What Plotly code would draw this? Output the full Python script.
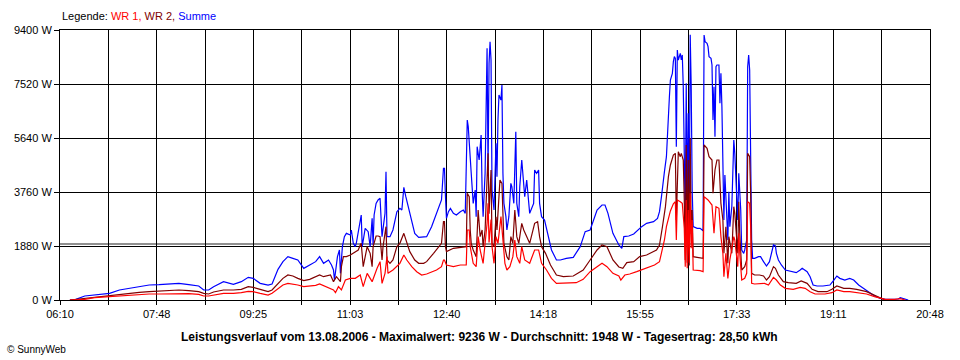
import plotly.graph_objects as go

# ---- data (time in minutes since midnight, power in W) ----
summe_min = [380, 386, 395, 405, 420, 430, 440, 450, 460, 470, 480, 490, 500, 510, 515, 520, 525, 535, 545, 553,
             560, 565, 572, 580, 584, 590, 595, 600, 605, 610, 616, 622, 628, 632, 636, 641, 644, 646, 647, 650,
             652, 653, 655, 657, 659, 663, 664, 666, 668, 669, 672, 674, 675, 678, 681, 683, 685, 686, 687, 689,
             691, 693, 695, 696, 698, 699, 700, 703, 706, 710, 713, 715, 717, 719, 722, 725, 728, 732, 737, 740,
             745, 750, 753, 755, 757, 758, 759, 760, 762, 764, 767, 770, 774, 777, 779, 781, 782, 784, 785, 787,
             789, 790, 791, 793, 795, 796, 797, 799, 800, 801, 802, 803, 804, 805, 806, 807, 808, 810, 811, 812,
             813, 815, 816, 817, 818, 820, 821, 823, 825, 826, 828, 830, 831, 833, 834, 836, 838, 839, 841, 843,
             844, 848, 849, 851, 853, 854, 856, 859, 863, 866, 871, 875, 881, 888, 895, 900, 905, 908, 912, 917,
             920, 923, 928, 934, 937, 939, 944, 949, 954, 957, 962, 969, 973, 975, 977, 979, 980, 982, 983, 985,
             986, 988, 989, 990, 991, 992, 993, 994, 996, 997, 998, 999, 1000, 1001, 1002, 1003, 1004, 1005, 1006, 1007,
             1008, 1009, 1013, 1016, 1019, 1020, 1021, 1023, 1024, 1025, 1027, 1028, 1029, 1030, 1031, 1032, 1033, 1035, 1036, 1037,
             1038, 1039, 1040, 1041, 1043, 1044, 1045, 1046, 1048, 1050, 1051, 1052, 1054, 1055, 1056, 1057, 1058, 1060, 1061, 1063,
             1064, 1065, 1066, 1067, 1068, 1069, 1071, 1075, 1077, 1080, 1083, 1086, 1088, 1090, 1092, 1093, 1095, 1098, 1102, 1105,
             1108, 1113, 1117, 1119, 1124, 1127, 1130, 1134, 1140, 1147, 1151, 1154, 1157, 1162, 1167, 1171, 1176, 1182, 1187, 1192,
             1198, 1203, 1209, 1216, 1218, 1221, 1224, 1226]
summe_w = [0, 23, 139, 174, 232, 348, 406, 464, 522, 534, 557, 580, 534, 487, 348, 348, 464, 638, 545, 638,
           789, 754, 580, 522, 557, 1068, 1335, 1509, 1451, 1393, 1102, 1218, 1335, 1509, 1277, 1393, 1219, 1044, 696, 1509,
           1741, 928, 1857, 2205, 2321, 2263, 2437, 1973, 1857, 1973, 2553, 2959, 1857, 2495, 2379, 1857, 2843, 1915, 2959, 3365,
           3482, 3540, 2205, 2553, 3017, 4468, 2205, 2205, 2437, 3075, 3191, 3133, 3922, 3598, 3133, 2669, 2321, 2182, 2182, 2205,
           2553, 3017, 3365, 3482, 4584, 4584, 3598, 2843, 3075, 3191, 3017, 2959, 3075, 3133, 3017, 6267, 6035, 4758, 4410, 3365,
           3830, 2901, 5338, 4874, 5744, 3830, 2901, 4410, 7775, 8762, 4500, 8240, 8994, 8356, 3830, 3365, 3133, 5454, 4294, 6267,
           7137, 6963, 7485, 4410, 3365, 2901, 2437, 2901, 4062, 3946, 3365, 5860, 3365, 2901, 3946, 4874, 3830, 3598, 4178, 3365,
           3017, 3365, 4526, 4410, 4526, 3365, 2901, 2785, 2205, 1741, 1393, 1393, 1451, 1485, 1857, 2379, 2437, 2727, 3133, 3307,
           3307, 3017, 2321, 1915, 1799, 2205, 2228, 2298, 2460, 2553, 2669, 2727, 2843, 3075, 3598, 4294, 4468, 4990, 5860, 7079,
           7659, 7891, 8297, 8472, 8414, 5338, 8704, 8356, 8588, 8356, 8530, 7427, 5106, 2785, 7543, 3000, 6499, 2800, 9236, 7427,
           3830, 2553, 2495, 2495, 2414, 9226, 8994, 8936, 8820, 8472, 8414, 8182, 6267, 7427, 5686, 8123, 8181, 8181, 6847, 7891,
           6731, 5106, 2785, 4352, 2785, 2089, 3772, 2553, 3249, 5570, 5106, 4294, 2785, 4410, 3714, 3133, 1741, 1625, 1741, 2089,
           8123, 8530, 8007, 4000, 2089, 1451, 1451, 1509, 1509, 1335, 1184, 1335, 1625, 1915, 1880, 1625, 1393, 1219, 1044, 1021,
           986, 951, 1044, 1102, 986, 812, 522, 487, 487, 522, 696, 836, 754, 696, 754, 696, 522, 371, 255, 139,
           58, 23, 23, 35, 81, 58, 23, 0]

wr2_min = [380, 386, 395, 405, 420, 430, 440, 450, 460, 470, 480, 490, 500, 510, 515, 520, 525, 535, 545, 553,
           560, 565, 572, 580, 584, 590, 595, 600, 605, 610, 616, 622, 628, 632, 636, 643, 646, 649, 653, 654,
           656, 659, 663, 666, 671, 673, 674, 676, 680, 683, 685, 686, 689, 691, 693, 695, 696, 699, 700, 703,
           706, 710, 713, 717, 720, 723, 728, 732, 737, 740, 747, 752, 755, 757, 758, 759, 760, 767, 774, 780,
           781, 783, 784, 785, 787, 790, 792, 794, 796, 797, 799, 801, 802, 803, 804, 805, 806, 808, 810, 811,
           813, 814, 816, 817, 818, 821, 823, 825, 827, 829, 831, 833, 836, 838, 841, 844, 849, 852, 854, 856,
           860, 865, 871, 878, 888, 898, 905, 912, 917, 922, 928, 934, 938, 942, 949, 955, 962, 965, 972, 975,
           976, 978, 981, 984, 986, 989, 991, 992, 994, 996, 997, 999, 1000, 1001, 1002, 1003, 1004, 1005, 1006, 1007,
           1008, 1009, 1013, 1019, 1020, 1023, 1025, 1028, 1029, 1031, 1033, 1035, 1037, 1039, 1040, 1042, 1044, 1045, 1048, 1050,
           1051, 1054, 1055, 1056, 1058, 1061, 1063, 1064, 1066, 1067, 1068, 1071, 1076, 1080, 1083, 1086, 1090, 1092, 1095, 1100,
           1105, 1113, 1118, 1124, 1129, 1135, 1144, 1149, 1154, 1161, 1167, 1174, 1184, 1191, 1196, 1201, 1206]
wr2_w = [0, 23, 58, 116, 162, 197, 232, 267, 290, 313, 325, 348, 325, 290, 232, 209, 278, 348, 348, 371,
         464, 441, 371, 290, 348, 580, 754, 870, 836, 754, 673, 720, 812, 870, 812, 870, 638, 812, 638, 1161,
         1509, 1509, 1567, 1625, 1741, 1915, 1973, 1161, 1857, 1625, 1161, 1857, 2228, 2228, 2205, 1393, 1857, 2553, 1393, 1277,
         1393, 1857, 1973, 2321, 1973, 1683, 1393, 1277, 1277, 1335, 1625, 1857, 1973, 2727, 2727, 1857, 1683, 1799, 1834, 1857,
         3714, 3598, 2437, 1973, 1741, 1509, 3133, 2205, 2437, 1857, 2437, 4526, 5106, 3000, 3830, 4526, 1973, 1857, 2901, 2437,
         3598, 4178, 4062, 2901, 1973, 1509, 1393, 2205, 1973, 3133, 2205, 1973, 2669, 2437, 2205, 1973, 2669, 2727, 2205, 1857,
         1625, 1219, 870, 812, 836, 1044, 1393, 1741, 1915, 1857, 1393, 1150, 1102, 1300, 1335, 1509, 1567, 1625, 1741, 1915,
         2089, 2553, 3249, 4294, 4700, 5048, 5106, 2785, 5164, 4990, 5106, 4874, 3500, 1393, 5396, 1300, 4874, 1200, 5628, 2300,
         3133, 1509, 1485, 1451, 5396, 5280, 4990, 4874, 3714, 4526, 4874, 4874, 3365, 2785, 1625, 2553, 1277, 2205, 1625, 3249,
         3017, 1625, 3423, 2321, 1044, 1160, 1393, 5106, 4990, 3714, 928, 870, 870, 836, 696, 812, 1161, 1102, 870, 638,
         603, 580, 661, 580, 371, 290, 290, 371, 487, 406, 406, 371, 290, 174, 81, 23, 0]

wr1_min = [380, 390, 395, 405, 420, 430, 440, 450, 460, 470, 480, 490, 500, 510, 515, 520, 525, 535, 545, 553,
           560, 565, 572, 580, 584, 590, 595, 600, 605, 610, 616, 622, 628, 632, 639, 646, 648, 651, 654, 658,
           663, 668, 673, 676, 680, 685, 690, 693, 695, 698, 700, 701, 706, 710, 713, 717, 720, 725, 730, 735,
           740, 750, 755, 757, 758, 760, 767, 774, 780, 781, 783, 784, 787, 790, 792, 794, 797, 801, 802, 803,
           804, 805, 806, 808, 810, 812, 815, 817, 819, 821, 824, 827, 829, 831, 834, 836, 839, 844, 849, 853,
           856, 861, 866, 871, 881, 891, 898, 905, 912, 917, 922, 928, 934, 936, 940, 945, 952, 962, 970, 975,
           977, 980, 982, 984, 986, 989, 991, 992, 993, 996, 998, 1000, 1001, 1002, 1003, 1004, 1005, 1006, 1007, 1008,
           1009, 1016, 1019, 1020, 1024, 1028, 1030, 1032, 1035, 1037, 1039, 1040, 1042, 1044, 1046, 1050, 1051, 1054, 1055, 1056,
           1058, 1061, 1063, 1064, 1066, 1067, 1068, 1071, 1076, 1081, 1085, 1090, 1093, 1097, 1102, 1110, 1117, 1122, 1127, 1132,
           1142, 1149, 1154, 1161, 1167, 1174, 1184, 1192, 1198, 1203, 1212, 1218, 1223]
wr1_w = [0, 0, 23, 81, 116, 139, 162, 197, 209, 209, 220, 232, 220, 197, 139, 139, 162, 232, 232, 255,
         302, 290, 232, 174, 232, 406, 522, 580, 557, 522, 464, 487, 510, 557, 464, 348, 255, 464, 348, 696,
         754, 754, 870, 464, 928, 638, 1102, 1335, 580, 928, 1509, 928, 1044, 1161, 1277, 1567, 1393, 1161, 986, 870,
         905, 1044, 1161, 1393, 1393, 1219, 1161, 1219, 1219, 2437, 2437, 1857, 1277, 1161, 2205, 1741, 1277, 2669, 3365, 2000,
         2437, 2800, 1857, 1277, 2205, 1973, 2901, 2205, 1277, 1044, 1161, 1509, 2089, 1509, 1277, 1857, 1393, 1277, 1741, 1741,
         1277, 1044, 754, 580, 580, 603, 720, 986, 1161, 1277, 1161, 928, 836, 696, 870, 905, 986, 1102, 1219, 1335,
         1625, 2089, 2553, 2843, 3100, 3350, 3423, 2089, 3482, 3423, 3365, 2500, 1160, 3480, 1102, 3133, 1300, 3714, 1800, 2785,
         1044, 1021, 986, 3598, 3482, 3307, 2321, 3249, 3191, 2205, 1625, 812, 1625, 754, 1393, 2205, 2089, 1160, 2321, 1625,
         696, 754, 928, 3423, 3365, 2553, 580, 557, 580, 580, 522, 789, 696, 522, 406, 371, 441, 406, 290, 209,
         209, 255, 348, 290, 290, 255, 209, 116, 58, 23, 23, 46, 0]

average_w = 1948
y_ticks = [0, 1880, 3760, 5640, 7520, 9400]
y_tick_labels = ["0 W", "1880 W", "3760 W", "5640 W", "7520 W", "9400 W"]
x_start, x_end = 370, 1248          # 06:10 .. 20:48
x_tick_labels = ["06:10", "07:48", "09:25", "11:03", "12:40", "14:18", "15:55", "17:33", "19:11", "20:48"]

# ---- figure ----
n_int = 2 * (len(x_tick_labels) - 1)
x_tickvals = [x_start + i * (x_end - x_start) / n_int for i in range(n_int + 1)]
x_ticktext = [x_tick_labels[i // 2] if i % 2 == 0 else "" for i in range(n_int + 1)]

fig = go.Figure()
fig.add_trace(go.Scatter(x=summe_min, y=summe_w, mode="lines", name="Summe",
                         line=dict(color="#0000ff", width=1.2)))
fig.add_trace(go.Scatter(x=wr2_min, y=wr2_w, mode="lines", name="WR 2",
                         line=dict(color="#800000", width=1.2)))
fig.add_trace(go.Scatter(x=wr1_min, y=wr1_w, mode="lines", name="WR 1",
                         line=dict(color="#ff0000", width=1.2)))

fig.add_shape(type="line", xref="paper", x0=0, x1=1, yref="y", y0=average_w, y1=average_w,
              line=dict(color="#909090", width=2), layer="between")

font = dict(family="Liberation Sans, Arial, sans-serif", size=11, color="black")
axis_common = dict(showgrid=True, gridcolor="black", gridwidth=1, showline=True, linecolor="black",
                   linewidth=1, mirror=True, ticks="outside", tickcolor="black", zeroline=False,
                   tickfont=font, fixedrange=True)
fig.update_xaxes(range=[x_start, x_end], tickmode="array", tickvals=x_tickvals, ticktext=x_ticktext,
                 ticklen=4, **axis_common)
fig.update_yaxes(range=[0, 9400], tickmode="array", tickvals=y_ticks, ticktext=y_tick_labels,
                 ticklen=5, **axis_common)

fig.add_annotation(xref="paper", yref="paper", x=0, y=1 + 14 / 270, xanchor="left", yanchor="middle",
                   showarrow=False, font=font,
                   text='Legende: <span style="color:#ff0000">WR 1,</span> '
                        '<span style="color:#800000">WR 2,</span> '
                        '<span style="color:#0000ff">Summe</span>')
fig.add_annotation(xref="paper", yref="paper", x=(479 - 60) / 870, y=-37 / 270, xanchor="center",
                   yanchor="middle", showarrow=False,
                   font=dict(family="Liberation Sans, Arial, sans-serif", size=12, color="black"),
                   text="<b>Leistungsverlauf vom 13.08.2006 - Maximalwert: 9236 W - Durchschnitt: 1948 W - "
                        "Tagesertrag: 28,50 kWh</b>")
fig.add_annotation(xref="paper", yref="paper", x=-55 / 870, y=-49 / 270, xanchor="left", yanchor="middle",
                   showarrow=False, font=dict(family="Liberation Sans, Arial, sans-serif", size=10, color="black"),
                   text="© SunnyWeb")

fig.update_layout(width=960, height=360, margin=dict(l=60, r=30, t=30, b=60, pad=0),
                  paper_bgcolor="white", plot_bgcolor="white", showlegend=False, font=font)

fig.write_html("out.html", config={"displayModeBar": False},
               post_script="document.body.style.margin='0';")
